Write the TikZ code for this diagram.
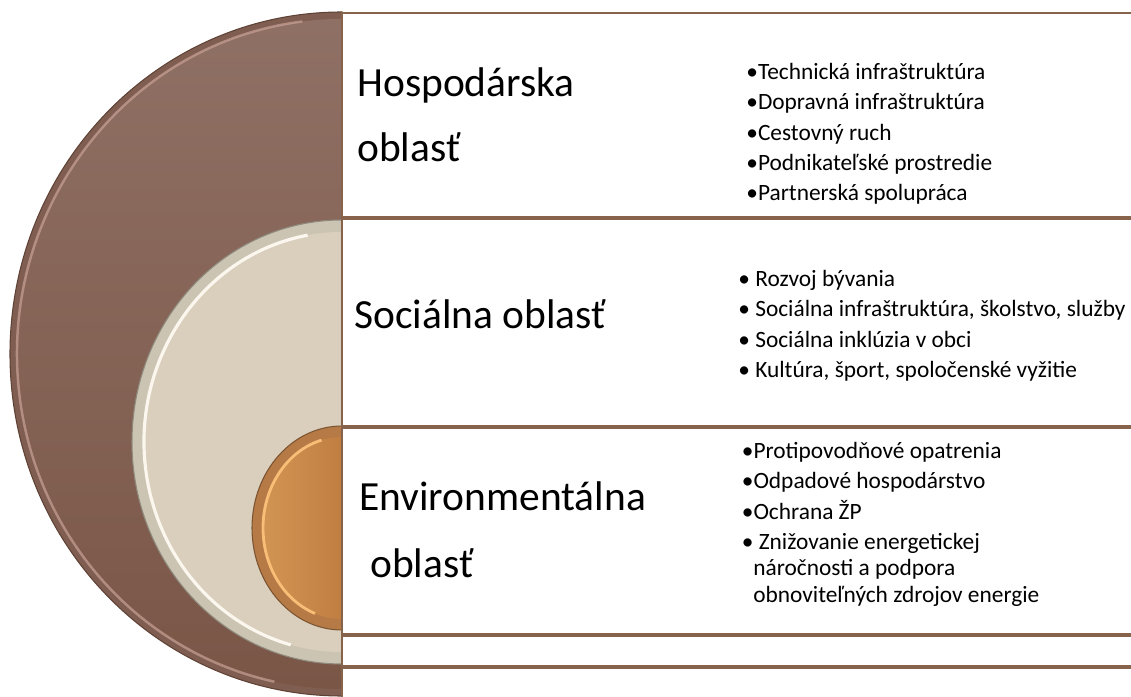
\documentclass[tikz,border=0pt]{standalone}
\usepackage{fontspec}
\setmainfont{Carlito}
\definecolor{brownA}{HTML}{8F7064}
\definecolor{brownB}{HTML}{7A5647}
\definecolor{brownC}{HTML}{5E4236}
\definecolor{brownRim}{HTML}{7F5E51}
\definecolor{brownHi}{HTML}{C9A196}
\definecolor{beige}{HTML}{DACFBD}
\definecolor{beigeRim}{HTML}{CCC4B2}
\definecolor{beigeC}{HTML}{8E8B7E}
\definecolor{beigeHi}{HTML}{FBF7EE}
\definecolor{orangeL}{HTML}{D29453}
\definecolor{orangeR}{HTML}{C07F41}
\definecolor{orangeRim}{HTML}{B57A45}
\definecolor{orangeC}{HTML}{7C5431}
\definecolor{orangeHi}{HTML}{FFC47C}
\definecolor{boxline}{HTML}{86634A}
\begin{document}
\begin{tikzpicture}[x=0.02cm, y=0.02cm,
    area/.style={anchor=base west, inner sep=0pt, font=\fontsize{23.6}{28}\selectfont},
    item/.style={anchor=base west, inner sep=0pt, font=\fontsize{13.3}{16}\selectfont},
    box/.style={draw=boxline, line width=0.9pt, fill=white}]
    \useasboundingbox (0,0) rectangle (1131,696);
    \clip (0,0) rectangle (1131,696);
    % outer half ellipse
    \fill[brownRim, draw=brownC, line width=0.6pt] (342,684) arc (90:270:332 and 342) -- cycle;
    \shade[top color=brownA, bottom color=brownB] (342,677) arc (90:270:325 and 335) -- cycle;
    \draw[brownHi, line width=1.4pt, opacity=0.7, shift={(342,342)}] (97:325 and 335) arc (97:258:325 and 335);
    % middle half ellipse
    \fill[beigeRim, draw=beigeC, line width=0.6pt] (342,476) arc (90:270:210 and 222) -- cycle;
    \fill[beige] (342,464) arc (90:270:198 and 210) -- cycle;
    \draw[beigeHi, line width=1.8pt, shift={(342,254)}] (100:198 and 210) arc (100:255:198 and 210);
    % inner half ellipse
    \fill[orangeRim, draw=orangeC, line width=0.6pt] (342,270) arc (90:270:90 and 102) -- cycle;
    \shade[left color=orangeL, right color=orangeR] (342,259) arc (90:270:79 and 91) -- cycle;
    \draw[orangeHi, line width=1.6pt, opacity=0.9, shift={(342,168)}] (105:79 and 91) arc (105:250:79 and 91);
    % boxes
    \draw[box] (342,683) rectangle (1140,479);
    \draw[box] (342,477) rectangle (1140,270);
    \draw[box] (342,268) rectangle (1140,62);
    \draw[box] (342,60) rectangle (1140,30);
    \draw[box] (342,28) rectangle (1140,-10);
    % titles
    \node[area] (hosp) at (357,599) {Hospodárska};
    \node[area] (hospb) at (357,534) {oblasť};
    \node[area] (soc) at (354,367) {Sociálna oblasť};
    \node[area] (env) at (359,185) {Environmentálna};
    \node[area] (envb) at (370,119) {oblasť};
    % items
    \node[item] (h1) at (746,616.5) {•Technická infraštruktúra};
    \node[item] (h2) at (746,586.5) {•Dopravná infraštruktúra};
    \node[item] (h3) at (746,555.5) {•Cestovný ruch};
    \node[item] (h4) at (746,525.5) {•Podnikateľské prostredie};
    \node[item] (h5) at (746,495.5) {•Partnerská spolupráca};
    \node[item] (s1) at (738,409.5) {• Rozvoj bývania};
    \node[item] (s2) at (738,379.5) {• Sociálna infraštruktúra, školstvo, služby};
    \node[item] (s3) at (738,348.5) {• Sociálna inklúzia v obci};
    \node[item] (s4) at (738,318.5) {• Kultúra, šport, spoločenské vyžitie};
    \node[item] (e1) at (741.5,237.5) {•Protipovodňové opatrenia};
    \node[item] (e2) at (741.5,207.5) {•Odpadové hospodárstvo};
    \node[item] (e3) at (741.5,176.5) {•Ochrana ŽP};
    \node[item] (e4) at (741.5,146.5) {• Znižovanie energetickej};
    \node[item] (e5) at (753,120.5) {náročnosti a podpora};
    \node[item] (e6) at (753,93.5) {obnoviteľných zdrojov energie};
\end{tikzpicture}
\end{document}
